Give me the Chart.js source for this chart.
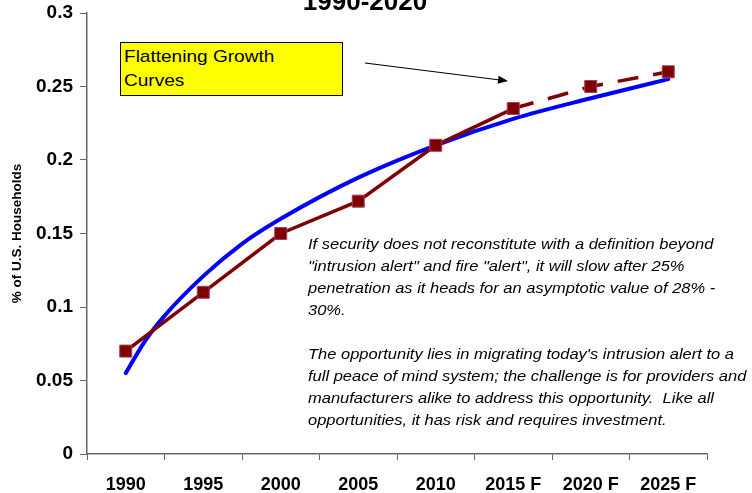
<!DOCTYPE html>
<html>
<head>
<meta charset="utf-8">
<script src="https://cdn.jsdelivr.net/npm/chart.js@4/dist/chart.umd.min.js"></script>
<style>
  html, body { margin: 0; padding: 0; background: #fff; overflow: hidden; }
  #wrap { position: relative; width: 752px; height: 493px; }
  #c { position: absolute; left: 0; top: 0; }
  .title { position: absolute; left: -11px; width: 752px; top: -14px; text-align: center;
    font: bold 26px Arial, "Liberation Sans", sans-serif; color: #000; }
  .box { position: absolute; left: 120px; top: 42px; width: 223px; height: 54px; background: #ffff00;
    border: 1px solid #000; box-sizing: border-box; }
  .box span { position: absolute; left: 3px; top: 2px; font: 17px Arial, "Liberation Sans", sans-serif; line-height: 24px;
    transform: scaleX(1.12); transform-origin: 0 0; white-space: nowrap; }
  .note { position: absolute; left: 308px; top: 233px; font: italic 15px Arial, "Liberation Sans", sans-serif;
    line-height: 22px; color: #000; white-space: pre; transform: scaleX(1.1); transform-origin: 0 0; }
</style>
</head>
<body>
<div id="wrap">
  <canvas id="c" width="752" height="493"></canvas>
  <div class="title">1990-2020</div>
  <div class="box"><span>Flattening Growth<br>Curves</span></div>
  <div class="note">If security does not reconstitute with a definition beyond
"intrusion alert" and fire "alert", it will slow after 25%
penetration as it heads for an asymptotic value of 28% -
30%.

The opportunity lies in migrating today's intrusion alert to a
full peace of mind system; the challenge is for providers and
manufacturers alike to address this opportunity.  Like all
opportunities, it has risk and requires investment.</div>
</div>
<script>
const categories = ['1990', '1995', '2000', '2005', '2010', '2015 F', '2020 F', '2025 F'];
const penetration = [0.07, 0.11, 0.15, 0.172, 0.21, 0.235, 0.25, 0.26];
// trend curve at category positions (1 = 1990 ... 8 = 2025 F)
const trendX = [1, 1.25, 1.5, 2, 2.5, 3, 4, 5, 6, 7, 8];
const trendY = [0.055, 0.077, 0.094, 0.121, 0.143, 0.160, 0.188, 0.210, 0.228, 0.242, 0.255];
const yTicks = [0, 0.05, 0.1, 0.15, 0.2, 0.25, 0.3];
const forecastStart = 5;

const arrowPlugin = {
  id: 'arrow',
  afterDatasetsDraw(chart) {
    const ctx = chart.ctx;
    const x1 = 365, y1 = 63, x2 = 508, y2 = 81;
    ctx.save();
    ctx.strokeStyle = '#000';
    ctx.fillStyle = '#000';
    ctx.lineWidth = 1.2;
    ctx.beginPath();
    ctx.moveTo(x1, y1);
    ctx.lineTo(x2 - 8, y2 - 1);
    ctx.stroke();
    const ang = Math.atan2(y2 - y1, x2 - x1);
    ctx.beginPath();
    ctx.moveTo(x2, y2);
    ctx.lineTo(x2 - 10 * Math.cos(ang) + 4 * Math.sin(ang), y2 - 10 * Math.sin(ang) - 4 * Math.cos(ang));
    ctx.lineTo(x2 - 10 * Math.cos(ang) - 4 * Math.sin(ang), y2 - 10 * Math.sin(ang) + 4 * Math.cos(ang));
    ctx.closePath();
    ctx.fill();
    ctx.restore();
  }
};

const font = (size, weight) => ({ family: 'Arial, "Liberation Sans", sans-serif', size, weight });

new Chart(document.getElementById('c'), {
  type: 'line',
  data: {
    labels: categories,
    datasets: [
      {
        label: 'Trend',
        data: trendX.map((x, i) => ({ x, y: trendY[i] })),
        xAxisID: 'xt',
        borderColor: '#0000ff',
        borderWidth: 4,
        pointRadius: 0,
        cubicInterpolationMode: 'monotone',
        borderCapStyle: 'round',
        order: 2
      },
      {
        label: '% of U.S. Households',
        data: penetration,
        xAxisID: 'x',
        borderColor: '#800000',
        borderWidth: 3.5,
        pointStyle: 'rect',
        pointRadius: 8.5,
        pointBackgroundColor: '#800000',
        pointBorderColor: '#a0406a',
        pointBorderWidth: 1,
        segment: {
          borderDash: ctx => ctx.p0DataIndex >= forecastStart ? [21, 15] : undefined
        },
        order: 1
      }
    ]
  },
  options: {
    responsive: false,
    animation: false,
    devicePixelRatio: 1,
    layout: { padding: { left: 9, right: 45, top: 0, bottom: 0 } },
    plugins: { legend: { display: false }, tooltip: { enabled: false }, title: { display: false } },
    scales: {
      x: {
        offset: true,
        afterFit: axis => { axis.height = 39; },
        grid: { display: true, offset: true, drawOnChartArea: false, drawTicks: true, tickLength: 6, color: '#666' },
        border: { display: true, color: '#666', width: 1.5 },
        ticks: { color: '#000', font: font(18, 'bold'), padding: 14, maxRotation: 0, autoSkip: false }
      },
      xt: {
        type: 'linear',
        display: false,
        min: 0.5,
        max: categories.length + 0.5
      },
      y: {
        min: 0,
        max: 0.3,
        afterBuildTicks: axis => { axis.ticks = yTicks.map(v => ({ value: v })); },
        afterFit: axis => { axis.width = 78; axis.paddingTop = 13; axis.paddingBottom = 10; },
        grid: { display: true, drawOnChartArea: false, drawTicks: true, tickLength: 7, color: '#666' },
        border: { display: true, color: '#666', width: 1.5 },
        ticks: { color: '#000', font: font(19, 'bold'), padding: 7, callback: v => String(v) },
        title: { display: true, text: '% of U.S. Households', color: '#000', font: font(13.5, 'bold'), padding: 0 }
      }
    }
  },
  plugins: [arrowPlugin]
});
</script>
</body>
</html>
